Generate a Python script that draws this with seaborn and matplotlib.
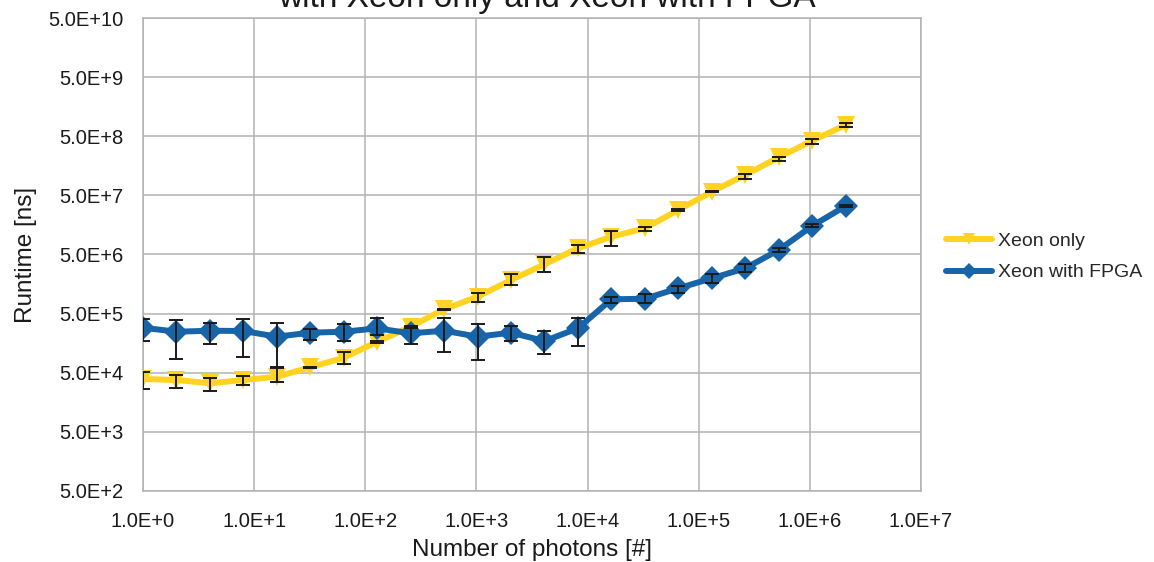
import numpy as np
import pandas as pd
import seaborn as sns
import matplotlib
matplotlib.use("Agg")
import matplotlib.pyplot as plt
from matplotlib.ticker import LogLocator, FuncFormatter, NullFormatter
from matplotlib.lines import Line2D

# ---- data ----
photons = [2 ** k for k in range(22)]

xeon_only = [3.92e4, 3.77e4, 3.32e4, 3.77e4, 4.29e4, 6.18e4, 8.99e4, 1.67e5,
             3.01e5, 5.92e5, 9.66e5, 1.85e6, 3.41e6, 6.37e6, 1.00e7, 1.39e7,
             2.83e7, 5.77e7, 1.11e8, 2.20e8, 4.20e8, 7.74e8]
xeon_only_hi = [5.09e4, 4.63e4, 4.03e4, 4.46e4, 5.94e4, 6.32e4, 1.14e5, 1.72e5,
                3.05e5, 6.00e5, 1.13e6, 2.34e6, 4.49e6, 7.24e6, 1.26e7, 1.48e7,
                2.90e7, 5.90e7, 1.14e8, 2.25e8, 4.44e8, 8.47e8]
xeon_only_lo = [2.62e4, 2.73e4, 2.45e4, 3.10e4, 3.53e4, 6.00e4, 6.95e4, 1.62e5,
                2.97e5, 5.85e5, 7.96e5, 1.52e6, 2.50e6, 5.36e6, 6.97e6, 1.25e7,
                2.75e7, 5.65e7, 9.46e7, 1.93e8, 3.70e8, 7.08e8]

xeon_fpga = [2.89e5, 2.47e5, 2.57e5, 2.54e5, 2.04e5, 2.38e5, 2.47e5, 2.82e5,
             2.32e5, 2.57e5, 2.04e5, 2.38e5, 1.72e5, 2.82e5, 8.73e5, 8.93e5,
             1.34e6, 1.98e6, 2.92e6, 5.96e6, 1.52e7, 3.30e7]
xeon_fpga_hi = [4.06e5, 3.90e5, 3.51e5, 4.06e5, 3.43e5, 2.78e5, 3.30e5, 4.27e5,
                2.82e5, 4.17e5, 3.30e5, 3.13e5, 2.57e5, 4.27e5, 9.66e5, 1.07e6,
                1.48e6, 2.31e6, 3.41e6, 6.37e6, 1.62e7, 3.44e7]
xeon_fpga_lo = [1.72e5, 8.55e4, 1.51e5, 9.33e4, 6.18e4, 1.79e5, 1.72e5, 2.18e5,
                1.51e5, 1.14e5, 8.22e4, 1.74e5, 1.04e5, 1.43e5, 7.48e5, 7.48e5,
                1.13e6, 1.67e6, 2.50e6, 5.45e6, 1.44e7, 3.20e7]

series_names = ["Xeon only", "Xeon with FPGA"]
colors = {"Xeon only": "#FFD320", "Xeon with FPGA": "#1764A9"}
markers = {"Xeon only": "v", "Xeon with FPGA": "D"}

title = "with Xeon only and Xeon with FPGA"
xlabel = "Number of photons [#]"
ylabel = "Runtime [ns]"

df = pd.DataFrame({
    "photons": photons * 2,
    "runtime": xeon_only + xeon_fpga,
    "series": [series_names[0]] * len(photons) + [series_names[1]] * len(photons),
})

# ---- plot ----
sns.set_theme(style="white")
plt.rcParams["font.family"] = ["Liberation Sans", "DejaVu Sans"]
grid_c = "#b3b3b3"

fig = plt.figure(figsize=(11.54, 5.62), dpi=100)
ax = fig.add_axes([143 / 1154, 71 / 562, 778 / 1154, 473 / 562])

sns.lineplot(data=df, x="photons", y="runtime", hue="series", style="series",
             palette=colors, markers=markers, dashes=False, linewidth=4.3,
             markersize=12.5, markeredgewidth=0, ax=ax, legend=False, zorder=3)

for vals, hi, lo in [(xeon_only, xeon_only_hi, xeon_only_lo),
                     (xeon_fpga, xeon_fpga_hi, xeon_fpga_lo)]:
    v = np.array(vals)
    err = np.vstack([v - np.array(lo), np.array(hi) - v])
    ax.errorbar(photons, v, yerr=err, fmt="none", ecolor="#1a1a1a",
                elinewidth=1.4, capsize=5, capthick=1.4, zorder=4)

ax.set_xscale("log")
ax.set_yscale("log")
ax.set_xlim(1, 1e7)
ax.set_ylim(5e2, 5e10)

ax.xaxis.set_major_locator(LogLocator(base=10, subs=(1.0,), numticks=20))
ax.xaxis.set_minor_locator(LogLocator(base=10, subs=np.arange(2, 10), numticks=20))
ax.yaxis.set_major_locator(LogLocator(base=10, subs=(5.0,), numticks=20))
ax.yaxis.set_minor_locator(LogLocator(base=10, subs=(1.0, 1.5, 2.0, 2.5, 3.0, 3.5, 4.0, 4.5), numticks=20))


def sci_fmt(v, pos):
    e = int(np.floor(np.log10(v) + 1e-9))
    m = v / 10 ** e
    return f"{m:.1f}E+{e}"


ax.xaxis.set_major_formatter(FuncFormatter(sci_fmt))
ax.yaxis.set_major_formatter(FuncFormatter(sci_fmt))
ax.xaxis.set_minor_formatter(NullFormatter())
ax.yaxis.set_minor_formatter(NullFormatter())

ax.grid(True, which="major", color=grid_c, linewidth=1.1)
ax.set_axisbelow(True)
for s in ax.spines.values():
    s.set_color(grid_c)
    s.set_linewidth(1.1)
ax.tick_params(which="major", direction="out", length=6, color=grid_c, width=1.1,
               labelsize=14.5, labelcolor="#1a1a1a", pad=8)
ax.tick_params(which="minor", direction="out", length=4, color=grid_c, width=1.0)
ax.tick_params(axis="x", which="major", length=9, pad=6)

ax.set_xlabel(xlabel, fontsize=17.5, color="#1a1a1a", labelpad=6)
ax.set_ylabel(ylabel, fontsize=17.5, color="#1a1a1a", labelpad=8)

fig.text(547 / 1154, 1 - 7 / 562, title, fontsize=24, ha="center",
         va="baseline", color="#1a1a1a")

handles = [Line2D([], [], color=colors[n], marker=markers[n], linewidth=4.3,
                  markersize=8, markeredgewidth=0) for n in series_names]
fig.legend(handles, series_names, loc="center left",
           bbox_to_anchor=(928 / 1154, 1 - 257 / 562), frameon=False,
           fontsize=14, handlelength=2.4, handletextpad=0.3, labelspacing=0.7)

fig.savefig("out.png", dpi=100)
